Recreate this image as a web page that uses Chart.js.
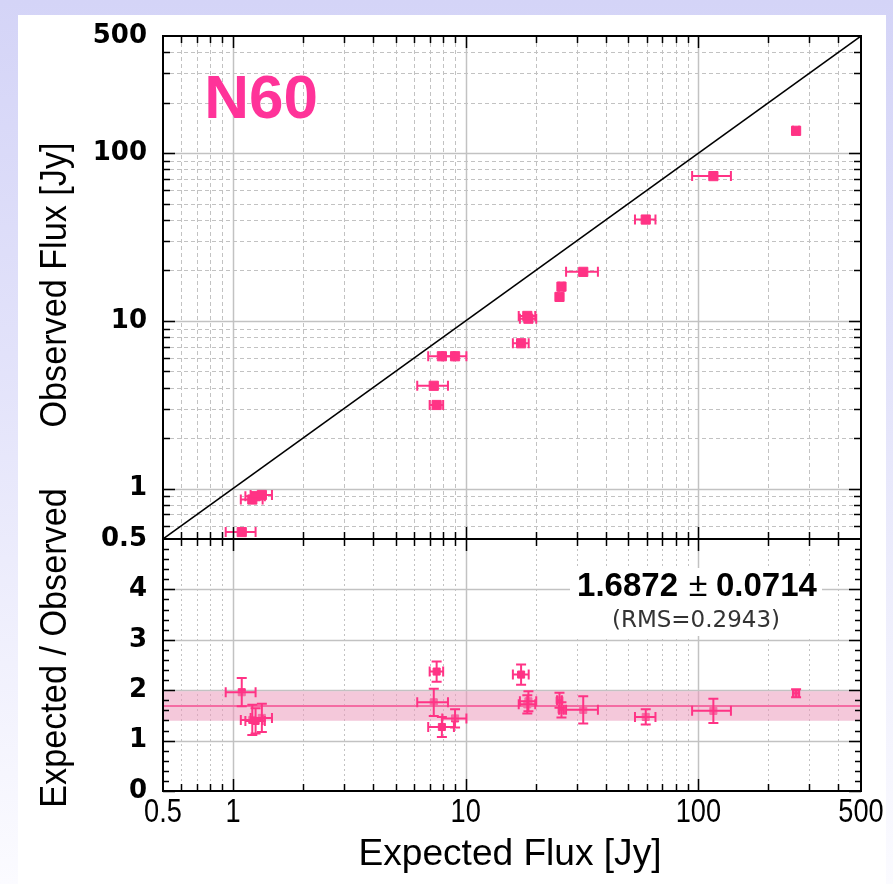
<!DOCTYPE html>
<html>
<head>
<meta charset="utf-8">
<script src="https://cdn.jsdelivr.net/npm/chart.js@4.4.1/dist/chart.umd.min.js"></script>
<style>
  html, body { margin: 0; padding: 0; }
  body {
    width: 893px; height: 884px; position: relative; overflow: hidden;
    background: linear-gradient(180deg, #d4d4f7 0%, #e2e2fa 40%, #f1f1fd 75%, #fbfbff 100%);
  }
  #sheet { position: absolute; left: 18px; top: 15px; width: 868px; height: 869px; background: #fff; }
  canvas { position: absolute; left: 0; top: 0; }
</style>
</head>
<body>
<div id="sheet"></div>
<canvas id="fluxPanel" width="893" height="884"></canvas>
<canvas id="ratioPanel" width="893" height="884"></canvas>
<script>
// ---- data ----
const xRange = [0.5, 500];
const fluxRange = [0.5, 500];
const ratioRange = [0, 5];
const xTickValues = [0.5, 1, 10, 100, 500];
const fluxTickValues = [0.5, 1, 10, 100, 500];
const ratioTickValues = [0, 1, 2, 3, 4];

const expectedFlux = [1.09, 1.21, 1.25, 1.33, 7.29, 7.5, 7.9, 9.0, 17.3, 18.4, 18.6, 25.3, 25.8, 32.0, 59.4, 116, 263];
const expectedErr  = [0.16, 0.13, 0.12, 0.14, 1.1, 0.5, 1.0, 1.07, 1.35, 1.5, 1.5, 0.6, 0.6, 5.0, 6.0, 22, 8];
const observedFlux = [0.55, 0.86, 0.90, 0.915, 4.1, 3.15, 6.15, 6.15, 7.35, 10.7, 10.3, 13.9, 16.0, 19.6, 40.2, 73, 136];
const fluxRatio    = [1.96, 1.41, 1.39, 1.45, 1.76, 2.37, 1.27, 1.44, 2.31, 1.72, 1.78, 1.80, 1.61, 1.61, 1.47, 1.59, 1.94];
const fluxRatioErr = [0.28, 0.30, 0.25, 0.28, 0.27, 0.20, 0.20, 0.18, 0.20, 0.18, 0.20, 0.15, 0.15, 0.27, 0.15, 0.24, 0.08];

const meanRatio = 1.6872;
const meanRatioErr = 0.0714;
const ratioRms = 0.2943;
const fieldName = 'N60';

// ---- style / layout ----
const PINK = '#ff3385';
const BAND = 'rgba(235,155,188,0.55)';
const GRID = '#c2c2c2';
const AREA = { left: 163, right: 861, top: 36, split: 539, bottom: 791 };
const W = 893, H = 884;

function logMinor(lo, hi) {
  const out = [];
  for (let d = -1; d <= 2; d++) {
    for (let m = 2; m <= 9; m++) {
      const v = m * Math.pow(10, d);
      if (v > lo * 1.0001 && v < hi * 0.9999) out.push(v);
    }
  }
  return out;
}
const decades = [1, 10, 100];
const xMinor = logMinor(xRange[0], xRange[1]);
const fluxMinor = logMinor(fluxRange[0], fluxRange[1]);
const ratioMinor = [];
for (let k = 1; k < 25; k++) if (k % 5 !== 0) ratioMinor.push(k / 5);

function crisp(v) { return Math.round(v) + 0.5; }

function vLine(ctx, px, y0, y1) { ctx.beginPath(); ctx.moveTo(crisp(px), y0); ctx.lineTo(crisp(px), y1); ctx.stroke(); }
function hLine(ctx, py, x0, x1) { ctx.beginPath(); ctx.moveTo(x0, crisp(py)); ctx.lineTo(x1, crisp(py)); ctx.stroke(); }

function text(ctx, str, x, y, o) {
  ctx.save();
  ctx.font = o.font;
  ctx.fillStyle = o.color || '#000';
  ctx.textAlign = o.align || 'center';
  ctx.textBaseline = o.baseline || 'middle';
  ctx.translate(x, y);
  if (o.rotate) ctx.rotate(o.rotate);
  if (o.scaleX) ctx.scale(o.scaleX, 1);
  ctx.fillText(str, 0, 0);
  ctx.restore();
}

// grid lines, drawn beneath the marks
function gridPlugin(kind) {
  return {
    id: 'panelGrid',
    beforeDatasetsDraw(chart) {
      const { ctx, chartArea: a, scales: { x, y } } = chart;
      ctx.save();
      ctx.strokeStyle = GRID;
      ctx.lineWidth = 1;
      if (kind === 'flux') {
        ctx.setLineDash([4, 3]);
        xMinor.forEach(v => vLine(ctx, x.getPixelForValue(v), a.top, a.bottom));
        fluxMinor.forEach(v => hLine(ctx, y.getPixelForValue(v), a.left, a.right));
        ctx.setLineDash([]);
        ctx.lineWidth = 1.5;
        decades.forEach(v => vLine(ctx, x.getPixelForValue(v), a.top, a.bottom));
        decades.forEach(v => hLine(ctx, y.getPixelForValue(v), a.left, a.right));
      } else {
        ctx.setLineDash([2, 3]);
        xMinor.forEach(v => vLine(ctx, x.getPixelForValue(v), a.top, a.bottom));
        ctx.setLineDash([]);
        ctx.lineWidth = 1.5;
        decades.forEach(v => vLine(ctx, x.getPixelForValue(v), a.top, a.bottom));
        ratioTickValues.slice(1).forEach(v => hLine(ctx, y.getPixelForValue(v), a.left, a.right));
        // fit result, on a white card
        const cx = 696;
        ctx.fillStyle = '#fff';
        ctx.fillRect(cx - 126, 568, 252, 68);
        text(ctx, meanRatio.toFixed(4), cx - 18, 587, { font: 'bold 33px "Liberation Sans", Arial, sans-serif', align: 'right' });
        text(ctx, '\u00b1', cx + 2, 587, { font: '34px "Liberation Sans", Arial, sans-serif' });
        text(ctx, meanRatioErr.toFixed(4), cx + 20, 587, { font: 'bold 33px "Liberation Sans", Arial, sans-serif', align: 'left' });
        text(ctx, '(RMS=' + ratioRms.toFixed(4) + ')', cx, 621, { font: '23px "DejaVu Sans", sans-serif', color: '#333' });
      }
      ctx.restore();
    }
  };
}

// error bars with caps
function errorBarPlugin(withY) {
  return {
    id: 'errorBars',
    afterDatasetsDraw(chart) {
      const { ctx, scales: { x, y } } = chart;
      ctx.save();
      ctx.strokeStyle = PINK;
      ctx.lineWidth = 2;
      expectedFlux.forEach((ex, i) => {
        const yv = withY ? fluxRatio[i] : observedFlux[i];
        const py = y.getPixelForValue(yv);
        const px = x.getPixelForValue(ex);
        const x0 = x.getPixelForValue(ex - expectedErr[i]);
        const x1 = x.getPixelForValue(ex + expectedErr[i]);
        const cap = 5;
        ctx.beginPath();
        ctx.moveTo(x0, py); ctx.lineTo(x1, py);
        ctx.moveTo(x0, py - cap); ctx.lineTo(x0, py + cap);
        ctx.moveTo(x1, py - cap); ctx.lineTo(x1, py + cap);
        if (withY) {
          const y0 = y.getPixelForValue(yv - fluxRatioErr[i]);
          const y1 = y.getPixelForValue(yv + fluxRatioErr[i]);
          ctx.moveTo(px, y0); ctx.lineTo(px, y1);
          ctx.moveTo(px - cap, y0); ctx.lineTo(px + cap, y0);
          ctx.moveTo(px - cap, y1); ctx.lineTo(px + cap, y1);
        }
        ctx.stroke();
      });
      ctx.restore();
    }
  };
}

// frame, inward ticks and text
function framePlugin(kind) {
  return {
    id: 'panelFrame',
    afterDraw(chart) {
      const { ctx, chartArea: a, scales: { x, y } } = chart;
      ctx.save();
      ctx.strokeStyle = '#000';
      ctx.lineWidth = 1.5;
      const xt = (v, len) => {
        const px = crisp(x.getPixelForValue(v));
        ctx.beginPath();
        ctx.moveTo(px, a.top); ctx.lineTo(px, a.top + len);
        ctx.moveTo(px, a.bottom); ctx.lineTo(px, a.bottom - len);
        ctx.stroke();
      };
      const yt = (v, len) => {
        const py = crisp(y.getPixelForValue(v));
        ctx.beginPath();
        ctx.moveTo(a.left, py); ctx.lineTo(a.left + len, py);
        ctx.moveTo(a.right, py); ctx.lineTo(a.right - len, py);
        ctx.stroke();
      };
      xMinor.forEach(v => xt(v, 7));
      decades.forEach(v => xt(v, 12));
      if (kind === 'flux') {
        fluxMinor.forEach(v => yt(v, 7));
        decades.forEach(v => yt(v, 12));
      } else {
        ratioMinor.forEach(v => yt(v, 6));
        ratioTickValues.forEach(v => yt(v, 12));
      }
      ctx.lineWidth = 2;
      ctx.strokeRect(a.left, a.top, a.right - a.left, a.bottom - a.top);

      const titleFont = '36px "Liberation Sans", Arial, sans-serif';
      if (kind === 'flux') {
        text(ctx, fieldName, 261, 101, { font: 'bold 62px "Liberation Sans", Arial, sans-serif', color: '#ff3399' });
        text(ctx, 'Observed Flux [Jy]', 56, 285, { font: titleFont, rotate: -Math.PI / 2, scaleX: 0.95 });
      } else {
        text(ctx, 'Expected / Observed', 56, 648, { font: titleFont, rotate: -Math.PI / 2, scaleX: 0.95 });
        text(ctx, 'Expected Flux [Jy]', 510, 855, { font: titleFont, scaleX: 1.03 });
        xTickValues.forEach(v => {
          text(ctx, String(v), x.getPixelForValue(v), 813, { font: '34px "Liberation Sans", Arial, sans-serif', scaleX: 0.8 });
        });
      }
      ctx.restore();
    }
  };
}

const yTickStyle = {
  autoSkip: false,
  padding: 16,
  color: '#000',
  font: { family: '"DejaVu Sans", Verdana, sans-serif', size: 26, weight: 'bold' },
  callback: v => String(v)
};
const common = {
  responsive: false,
  animation: false,
  events: [],
  plugins: { legend: { display: false }, tooltip: { enabled: false } }
};

// upper panel: observed vs expected flux
new Chart(document.getElementById('fluxPanel'), {
  type: 'scatter',
  data: {
    datasets: [
      {
        type: 'line',
        data: xRange.map(v => ({ x: v, y: v })),
        borderColor: '#000', borderWidth: 1.5, pointRadius: 0, fill: false
      },
      {
        data: expectedFlux.map((v, i) => ({ x: v, y: observedFlux[i] })),
        pointStyle: 'rect', pointRadius: 6.5, pointBorderWidth: 1,
        backgroundColor: PINK, borderColor: PINK
      }
    ]
  },
  options: {
    ...common,
    layout: { padding: { left: 0, top: AREA.top, right: W - AREA.right, bottom: H - AREA.split } },
    scales: {
      x: { type: 'logarithmic', min: xRange[0], max: xRange[1], display: false },
      y: {
        type: 'logarithmic', min: fluxRange[0], max: fluxRange[1],
        afterFit: s => { s.width = AREA.left; },
        afterBuildTicks: s => { s.ticks = fluxTickValues.map(v => ({ value: v, major: true })); },
        grid: { display: false, drawTicks: false },
        border: { display: false },
        ticks: yTickStyle
      }
    }
  },
  plugins: [gridPlugin('flux'), errorBarPlugin(false), framePlugin('flux')]
});

// lower panel: expected / observed ratio
new Chart(document.getElementById('ratioPanel'), {
  type: 'scatter',
  data: {
    datasets: [
      {
        type: 'line',
        data: xRange.map(v => ({ x: v, y: meanRatio - ratioRms })),
        borderWidth: 0, borderColor: 'rgba(0,0,0,0)', pointRadius: 0, fill: false
      },
      {
        type: 'line',
        data: xRange.map(v => ({ x: v, y: meanRatio + ratioRms })),
        borderWidth: 0, borderColor: 'rgba(0,0,0,0)', pointRadius: 0,
        fill: '-1', backgroundColor: BAND
      },
      {
        type: 'line',
        data: xRange.map(v => ({ x: v, y: meanRatio })),
        borderColor: PINK, borderWidth: 2, pointRadius: 0, fill: false
      },
      {
        data: expectedFlux.map((v, i) => ({ x: v, y: fluxRatio[i] })),
        pointStyle: 'rect', pointRadius: 5, pointBorderWidth: 1,
        backgroundColor: PINK, borderColor: PINK
      }
    ]
  },
  options: {
    ...common,
    layout: { padding: { left: 0, top: AREA.split, right: W - AREA.right, bottom: H - AREA.bottom } },
    scales: {
      x: { type: 'logarithmic', min: xRange[0], max: xRange[1], display: false },
      y: {
        type: 'linear', min: ratioRange[0], max: ratioRange[1],
        afterFit: s => { s.width = AREA.left; },
        afterBuildTicks: s => { s.ticks = ratioTickValues.map(v => ({ value: v })); },
        grid: { display: false, drawTicks: false },
        border: { display: false },
        ticks: yTickStyle
      }
    }
  },
  plugins: [gridPlugin('ratio'), errorBarPlugin(true), framePlugin('ratio')]
});
</script>
</body>
</html>
